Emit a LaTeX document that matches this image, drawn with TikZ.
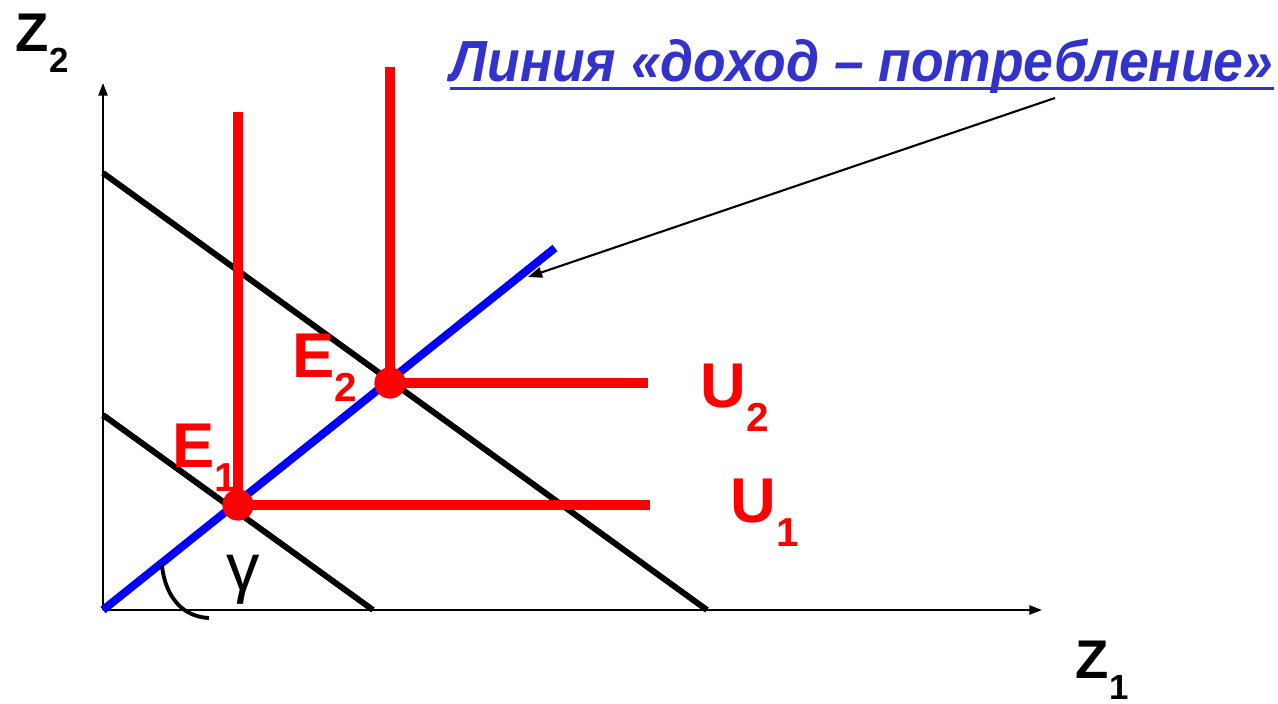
\documentclass[tikz,border=0pt]{standalone}
\usepackage{fontspec}
\setmainfont{Liberation Sans}
\usepackage{graphicx}
\usetikzlibrary{arrows.meta,positioning}

\definecolor{titleblue}{HTML}{3333CC}
% letter with a large, lowered index
\newcommand{\lbl}[2]{#1\raisebox{-0.37em}{\scalebox{0.64}{#2}}}

\begin{document}
\begin{tikzpicture}[
  x=0.01cm, y=-0.01cm,
  axis/.style={line width=0.6pt, -{Triangle[length=3.6pt,width=2.6pt]}},
  budget/.style={line width=1.7pt},
  iclline/.style={blue, line width=2.3pt},
  icurve/.style={red, line width=2.6pt},
  eqpoint/.style={circle, fill=red, inner sep=0pt, minimum size=8.8pt},
  redlbl/.style={red, font=\fontsize{18}{20}\selectfont\bfseries, inner sep=0pt, anchor=base west},
  axlbl/.style={font=\fontsize{15.5}{18}\selectfont\bfseries, inner sep=0pt, anchor=base west},
  titlelbl/.style={titleblue, font=\fontsize{16.5}{19}\selectfont\bfseries\itshape, inner sep=0pt, anchor=base west}
]
  \useasboundingbox (0,0) rectangle (1278,704);

  % axes
  \coordinate (O) at (103,610);
  \coordinate (ytop) at (103,83);
  \coordinate (xend) at (1042,610);
  \draw[axis] (O) -- (ytop);
  \draw[axis] (O) -- (xend);
  \node[axlbl] (z2) at (15,52) {\lbl{Z}{2}};
  \node[axlbl] (z1) at (1075,679) {\lbl{Z}{1}};

  % budget lines
  \coordinate (b1a) at (103,415);
  \coordinate (b1b) at (373,610);
  \coordinate (b2a) at (103,173);
  \coordinate (b2b) at (707,610);
  \draw[budget] (b1a) -- (b1b);
  \draw[budget] (b2a) -- (b2b);

  % income-consumption line
  \coordinate (iclend) at (555,248);
  \draw[iclline] (O) -- (iclend);

  % indifference curves
  \node[eqpoint] (E1) at (238,505) {};
  \node[eqpoint] (E2) at (390,383) {};
  \coordinate (u1top) at (238,112);
  \coordinate (u1end) at (650,505);
  \coordinate (u2top) at (390,67);
  \coordinate (u2end) at (648,383);
  \draw[icurve] (u1top) -- (E1.center) -- (u1end);
  \draw[icurve] (u2top) -- (E2.center) -- (u2end);
  \node[eqpoint] at (E1) {};
  \node[eqpoint] at (E2) {};

  \node[redlbl] (e1lbl) at (172,468) {\lbl{E}{1}};
  \node[redlbl] (e2lbl) at (292,378) {\lbl{E}{2}};
  \node[redlbl] (u2lbl) at (700,408) {\lbl{U}{2}};
  \node[redlbl] (u1lbl) at (730,523) {\lbl{U}{1}};

  % angle
  \coordinate (ga) at (162,566);
  \coordinate (gb) at (209,618);
  \draw[line width=1.1pt] (ga) .. controls (166,600) and (185,617) .. (gb);
  \node[anchor=base west, font=\fontsize{19}{22}\selectfont, inner sep=0pt] (gam) at (226,591) {γ};

  % title and pointer
  \node[titlelbl] (title) at (450,82) {\resizebox{8.22cm}{\height}{Линия «доход – потребление»}};
  \draw[titleblue, line width=0.9pt] ([yshift=-1.85pt]title.base west) -- ([yshift=-1.85pt]title.base east);
  \coordinate (ptr) at (1055,98);
  \coordinate (ptrtip) at (528,277);
  \draw[line width=0.6pt, -{Triangle[length=4pt,width=3pt]}] (ptr) -- (ptrtip);
\end{tikzpicture}
\end{document}
